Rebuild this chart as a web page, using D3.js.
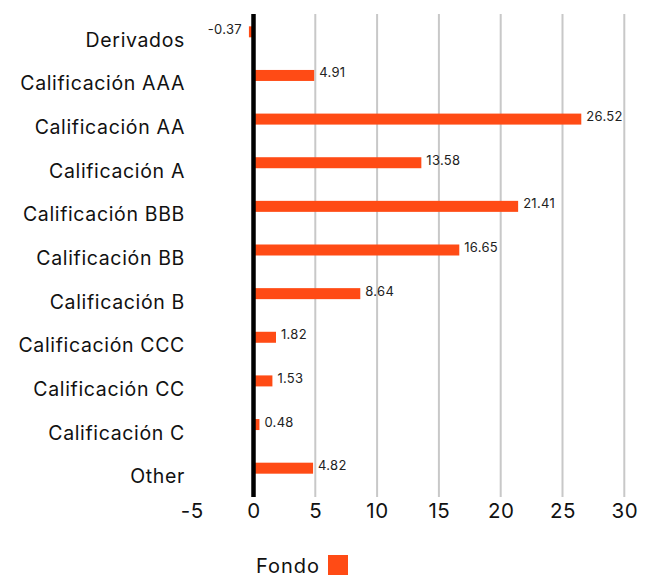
<!DOCTYPE html>
<html><head><meta charset="utf-8">
<script src="https://cdn.jsdelivr.net/npm/d3@7"></script>
<style>body{margin:0;background:#fff}svg{display:block}text{font-family:Inter,"Open Sans",sans-serif}</style>
</head><body>
<svg id="c" width="653" height="577"></svg>
<script>
const categories = ["Derivados","Calificación AAA","Calificación AA","Calificación A","Calificación BBB","Calificación BB","Calificación B","Calificación CCC","Calificación CC","Calificación C","Other"];
const fondo = [-0.37,4.91,26.52,13.58,21.41,16.65,8.64,1.82,1.53,0.48,4.82];
const xTicks = [-5,0,5,10,15,20,25,30];
const seriesName = "Fondo";
const color = "#ff4b15";

const svg = d3.select("#c");
const x = d3.scaleLinear().domain([-5,30]).range([191.7,624.3]);
const y = d3.scaleBand().domain(categories).range([18,498]);
const plotTop = 14, plotBottom = 497;

// gridlines
svg.append("g").selectAll("line").data(xTicks.filter(d=>d>0)).join("line")
  .attr("x1",d=>x(d)).attr("x2",d=>x(d)).attr("y1",plotTop).attr("y2",plotBottom)
  .attr("stroke","#c8c8c8").attr("stroke-width",2);

// bars
const bh = 11, off = -8;
const cy = i => y(categories[i]) + y.bandwidth()/2 + off;
svg.append("g").selectAll("rect").data(fondo).join("rect")
  .attr("x",d=>x(Math.min(0,d))).attr("width",d=>Math.abs(x(d)-x(0)))
  .attr("y",(d,i)=>cy(i)-bh/2).attr("height",bh)
  .attr("fill",color);

// zero line
svg.append("line").attr("x1",x(0)).attr("x2",x(0)).attr("y1",plotTop).attr("y2",plotBottom)
  .attr("stroke","#000").attr("stroke-width",4.5);

// value labels
svg.append("g").selectAll("text").data(fondo).join("text")
  .attr("x",d=>d<0?x(d)-7:x(d)+5)
  .attr("y",(d,i)=>cy(i)+2)
  .attr("text-anchor",d=>d<0?"end":"start")
  .attr("font-size",13).attr("fill","#222").style("letter-spacing","0.3px")
  .text(d=>d.toFixed(2));

// category labels
const yAxis = d3.axisLeft(y).tickSize(0).tickPadding(0);
const ga = svg.append("g").attr("transform","translate(185,0)").call(yAxis);
ga.select(".domain").remove();
ga.selectAll("text").attr("font-size",19.5).attr("fill","#111").attr("dy","0.36em")
  .style("font-family","Inter").style("letter-spacing","0.65px");

// x axis
const xAxis = d3.axisBottom(x).tickValues(xTicks).tickFormat(d=>String(d)).tickSize(0).tickPadding(0);
const gx = svg.append("g").attr("transform","translate(0,503)").call(xAxis);
gx.select(".domain").remove();
gx.selectAll("text").attr("font-size",20.5).attr("fill","#111").attr("dy","0.71em")
  .style("font-family","Inter").style("letter-spacing","0.6px");

// legend
const lg = svg.append("g");
lg.append("text").attr("x",320).attr("y",573).attr("text-anchor","end").attr("font-size",20).attr("fill","#111")
  .style("letter-spacing","1px").text(seriesName);
lg.append("rect").attr("x",328).attr("y",555).attr("width",20).attr("height",20).attr("fill",color);
</script>
</body></html>
